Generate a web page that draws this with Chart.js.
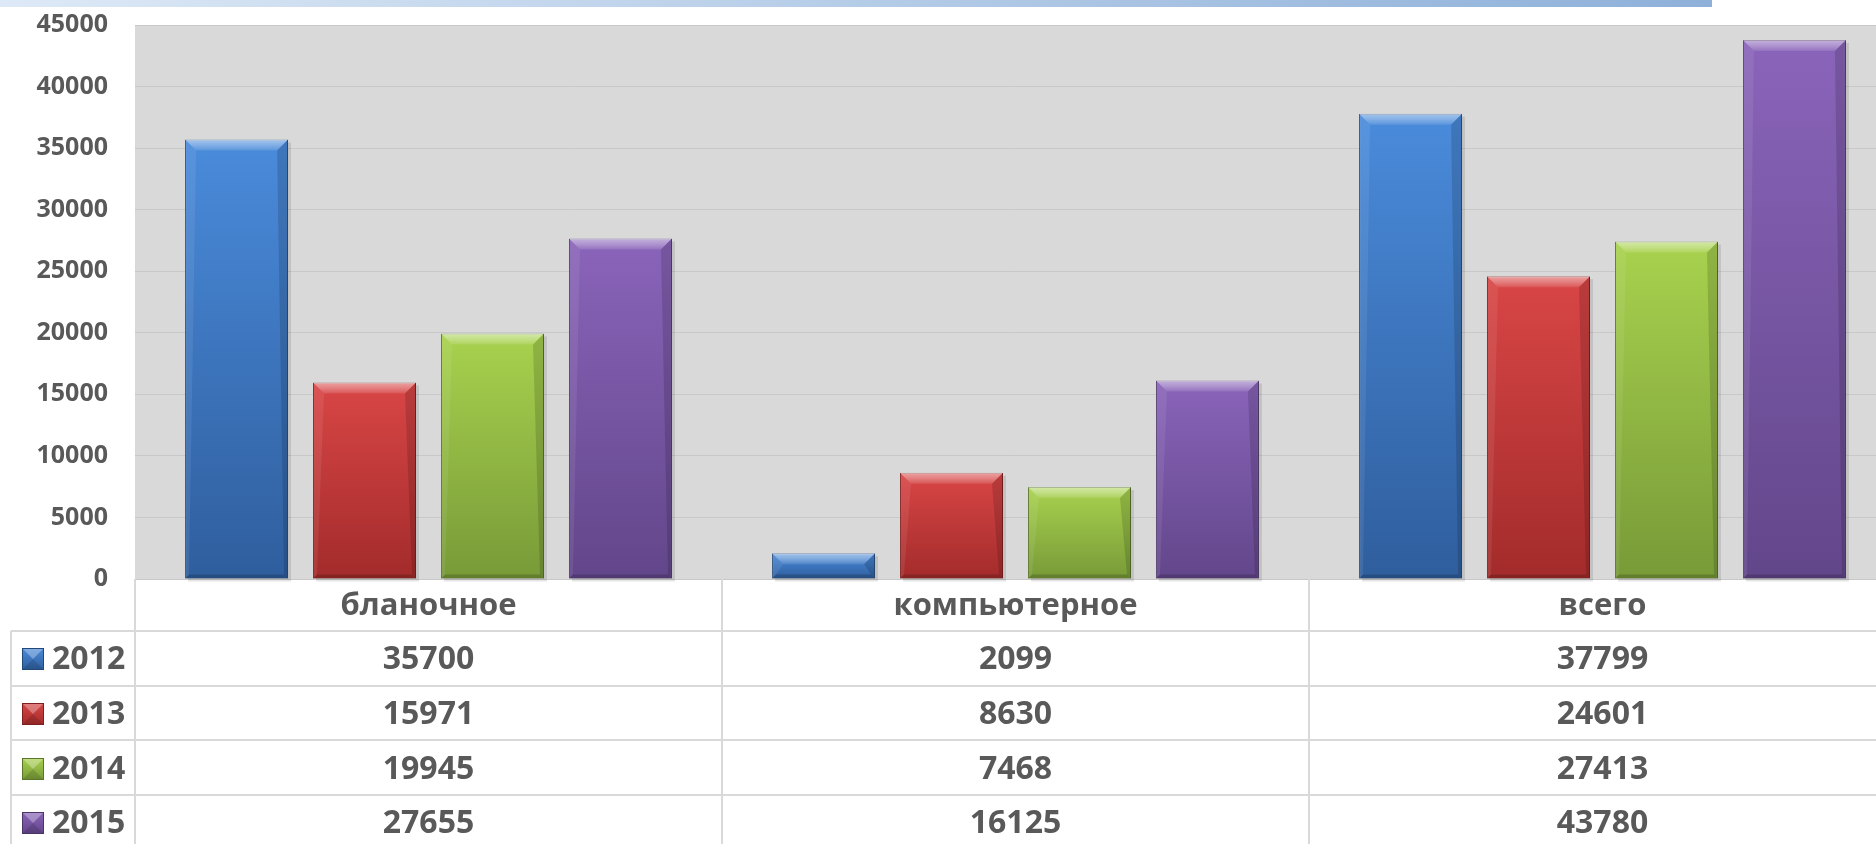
<!DOCTYPE html>
<html>
<head>
<meta charset="utf-8">
<script src="https://cdn.jsdelivr.net/npm/chart.js@4/dist/chart.umd.min.js"></script>
<style>
  html, body { margin: 0; padding: 0; background: #ffffff; overflow: hidden; width: 1876px; height: 844px; }
  #wrap { position: absolute; left: 0; top: 0; width: 1896px; height: 844px; }
</style>
</head>
<body>
<div id="wrap"><canvas id="c" width="1896" height="844"></canvas></div>
<script>
// ---- data ----
const categories = ['бланочное', 'компьютерное', 'всего'];
const years = ['2012', '2013', '2014', '2015'];
const values2012 = [35700, 2099, 37799];
const values2013 = [15971, 8630, 24601];
const values2014 = [19945, 7468, 27413];
const values2015 = [27655, 16125, 43780];
const yTicks = [0, 5000, 10000, 15000, 20000, 25000, 30000, 35000, 40000, 45000];

// ---- styles ----
const seriesValues = [values2012, values2013, values2014, values2015];
const topColors = ['#4a8bdb', '#d94646', '#a8d24e', '#8a64ba'];
const bottomColors = ['#2f5e9d', '#a32b2b', '#789a38', '#62468a'];
const edgeColors = ['#22487a', '#7e2020', '#5a7428', '#4a3468'];
const FONT = '"Open Sans", "Noto Sans", "DejaVu Sans", sans-serif';
const TEXT = '#595959';

function barGradient(ctx, i) {
  const chart = ctx.chart;
  const ys = chart.scales.y;
  if (!ys || ctx.raw === undefined) return topColors[i];
  const top = ys.getPixelForValue(ctx.raw);
  const base = ys.getPixelForValue(0);
  if (!isFinite(top) || !isFinite(base) || top === base) return topColors[i];
  const g = chart.ctx.createLinearGradient(0, top, 0, base);
  g.addColorStop(0, topColors[i]);
  g.addColorStop(1, bottomColors[i]);
  return g;
}

const datasets = years.map((y, i) => ({
  label: y,
  data: seriesValues[i],
  backgroundColor: (ctx) => barGradient(ctx, i),
  borderColor: edgeColors[i],
  borderWidth: 1,
  categoryPercentage: 0.872,
  barPercentage: 0.805
}));

const bgPlugin = {
  id: 'bg',
  beforeDraw(chart) {
    const { ctx, chartArea: a } = chart;
    ctx.save();
    // top banner
    const g = ctx.createLinearGradient(0, 0, 1712, 0);
    g.addColorStop(0, '#dde9f6');
    g.addColorStop(1, '#8eb0d9');
    ctx.fillStyle = g;
    ctx.fillRect(0, 0, 1712, 7);
    // plot background
    ctx.fillStyle = '#d9d9d9';
    ctx.fillRect(a.left, a.top, a.right - a.left, a.bottom - a.top + 1);
    ctx.restore();
  }
};

const bevelPlugin = {
  id: 'bevel',
  beforeDatasetsDraw(chart) {
    const ctx = chart.ctx;
    ctx.save();
    chart.data.datasets.forEach((ds, di) => {
      const meta = chart.getDatasetMeta(di);
      meta.data.forEach(el => {
        const p = el.getProps(['x', 'y', 'base', 'width'], true);
        const l = p.x - p.width / 2;
        ctx.fillStyle = 'rgba(0,0,0,0.10)';
        ctx.fillRect(l + 3, p.y + 3, p.width, p.base - p.y);
      });
    });
    ctx.restore();
  },
  afterDatasetsDraw(chart) {
    const ctx = chart.ctx;
    ctx.save();
    chart.data.datasets.forEach((ds, di) => {
      const meta = chart.getDatasetMeta(di);
      meta.data.forEach(el => {
        const p = el.getProps(['x', 'y', 'base', 'width'], true);
        const l = p.x - p.width / 2, r = p.x + p.width / 2;
        const t = p.y, b = p.base;
        const h = b - t;
        const bv = Math.min(11, h / 2);
        const sv = Math.min(4, h / 2);
        ctx.beginPath();
        ctx.moveTo(l, t); ctx.lineTo(r, t); ctx.lineTo(r - bv, t + bv); ctx.lineTo(l + bv, t + bv); ctx.closePath();
        const gt = ctx.createLinearGradient(0, t, 0, t + bv);
        gt.addColorStop(0, 'rgba(255,255,255,0.50)');
        gt.addColorStop(0.5, 'rgba(255,255,255,0.32)');
        gt.addColorStop(1, 'rgba(255,255,255,0.10)');
        ctx.fillStyle = gt;
        ctx.fill();
        ctx.beginPath();
        ctx.moveTo(l, t); ctx.lineTo(l + bv, t + bv); ctx.lineTo(l + sv, b - sv); ctx.lineTo(l, b); ctx.closePath();
        ctx.fillStyle = 'rgba(255,255,255,0.08)';
        ctx.fill();
        ctx.beginPath();
        ctx.moveTo(r, t); ctx.lineTo(r - bv, t + bv); ctx.lineTo(r - sv, b - sv); ctx.lineTo(r, b); ctx.closePath();
        ctx.fillStyle = 'rgba(0,0,0,0.14)';
        ctx.fill();
        ctx.beginPath();
        ctx.moveTo(l, b); ctx.lineTo(r, b); ctx.lineTo(r - sv, b - sv); ctx.lineTo(l + sv, b - sv); ctx.closePath();
        ctx.fillStyle = 'rgba(0,0,0,0.18)';
        ctx.fill();
      });
    });
    ctx.restore();
  }
};

const tablePlugin = {
  id: 'dataTable',
  afterDraw(chart) {
    const { ctx, chartArea: a } = chart;
    const xs = chart.scales.x;
    const n = categories.length;
    const catW = (xs.right - xs.left) / n;
    const headTop = a.bottom;
    const headBottom = a.bottom + 52;
    const rowH = 54.6;
    const tableLeft = 11;
    const right = chart.width;
    ctx.save();
    ctx.strokeStyle = '#d9d9d9';
    ctx.lineWidth = 2;
    for (let r = 0; r < years.length + 1; r++) {
      const y = Math.round(headBottom + r * rowH);
      ctx.beginPath(); ctx.moveTo(tableLeft, y); ctx.lineTo(right, y); ctx.stroke();
    }
    ctx.beginPath(); ctx.moveTo(tableLeft, headBottom); ctx.lineTo(tableLeft, chart.height); ctx.stroke();
    for (let i = 0; i < n; i++) {
      const x = Math.round(xs.getPixelForValue(i) - catW / 2);
      ctx.beginPath(); ctx.moveTo(x, headTop); ctx.lineTo(x, chart.height); ctx.stroke();
    }
    ctx.fillStyle = TEXT;
    ctx.textBaseline = 'middle';
    ctx.textAlign = 'center';
    ctx.font = 'bold 31px ' + FONT;
    categories.forEach((c, i) => {
      ctx.fillText(c, xs.getPixelForValue(i), (headTop + headBottom) / 2 + 1);
    });
    years.forEach((yr, r) => {
      const cy = headBottom + r * rowH + rowH / 2 + 2;
      ctx.font = 'bold 32px ' + FONT;
      ctx.textAlign = 'center';
      ctx.fillStyle = TEXT;
      seriesValues[r].forEach((v, i) => {
        ctx.fillText(String(v), xs.getPixelForValue(i), cy);
      });
      const kx = 22, ky = Math.round(cy - 12), ks = 22;
      const g = ctx.createLinearGradient(0, ky, 0, ky + ks);
      g.addColorStop(0, topColors[r]);
      g.addColorStop(1, bottomColors[r]);
      ctx.fillStyle = g;
      ctx.fillRect(kx, ky, ks, ks);
      ctx.beginPath(); ctx.moveTo(kx, ky); ctx.lineTo(kx + ks, ky); ctx.lineTo(kx + ks / 2, ky + ks / 2); ctx.closePath();
      ctx.fillStyle = 'rgba(255,255,255,0.30)'; ctx.fill();
      ctx.beginPath(); ctx.moveTo(kx, ky + ks); ctx.lineTo(kx + ks, ky + ks); ctx.lineTo(kx + ks / 2, ky + ks / 2); ctx.closePath();
      ctx.fillStyle = 'rgba(0,0,0,0.12)'; ctx.fill();
      ctx.strokeStyle = edgeColors[r]; ctx.lineWidth = 1;
      ctx.strokeRect(kx + 0.5, ky + 0.5, ks - 1, ks - 1);
      ctx.fillStyle = TEXT;
      ctx.textAlign = 'left';
      ctx.font = 'bold 32px ' + FONT;
      ctx.fillText(yr, 52, cy);
    });
    ctx.restore();
  }
};

new Chart(document.getElementById('c'), {
  type: 'bar',
  data: { labels: categories, datasets },
  options: {
    responsive: false,
    animation: false,
    layout: { padding: { top: 25, bottom: 265, left: 0, right: 0 } },
    plugins: { legend: { display: false }, tooltip: { enabled: false } },
    scales: {
      x: { display: false, type: 'category' },
      y: {
        min: 0, max: 45000,
        afterBuildTicks(scale) { scale.ticks = yTicks.map(v => ({ value: v })); },
        afterFit(scale) { scale.width = 135; scale.paddingTop = 0; scale.paddingBottom = 0; },
        border: { display: false },
        grid: { color: '#c8c8c8', lineWidth: 1, drawTicks: false },
        ticks: {
          padding: 27,
          color: TEXT,
          font: { family: FONT, size: 25, weight: 'bold' },
          callback: (v) => String(v)
        }
      }
    }
  },
  plugins: [bgPlugin, bevelPlugin, tablePlugin]
});
</script>
</body>
</html>
